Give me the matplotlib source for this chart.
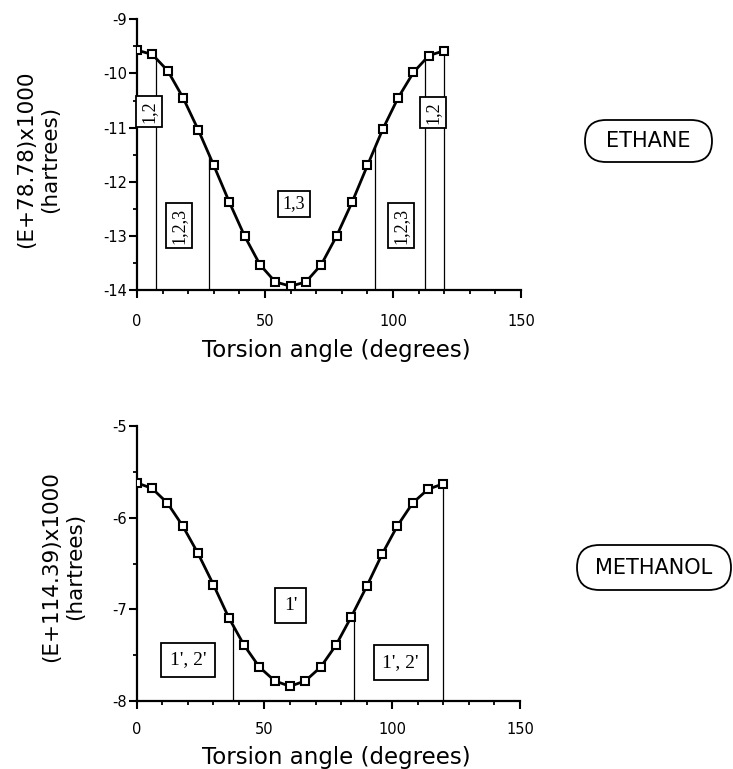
import numpy as np
import matplotlib
matplotlib.use("Agg")
import matplotlib.pyplot as plt
from matplotlib.patches import FancyBboxPatch
from matplotlib.ticker import MultipleLocator

plt.rcParams['font.family'] = 'DejaVu Sans'
plt.rcParams['axes.unicode_minus'] = False

# data
angle = [0, 6, 12, 18, 24, 30, 36, 42, 48, 54, 60, 66, 72, 78, 84, 90, 96, 102, 108, 114, 120]
ethane = [-9.57, -9.65, -9.95, -10.45, -11.05, -11.70, -12.37, -13.00, -13.53, -13.85, -13.93,
          -13.85, -13.53, -13.00, -12.38, -11.70, -11.03, -10.45, -9.98, -9.67, -9.58]
methanol = [-5.62, -5.68, -5.84, -6.09, -6.39, -6.73, -7.09, -7.39, -7.63, -7.78, -7.84,
            -7.78, -7.63, -7.39, -7.08, -6.75, -6.40, -6.09, -5.84, -5.69, -5.63]

ethane_bounds = [7.5, 28, 93, 112.5, 120]
methanol_bounds = [37.5, 85, 120]

ethane_labels = ["1,2", "1,2,3", "1,3", "1,2,3", "1,2"]
ethane_lab_x = [4.5, 16.3, 61.3, 103.1, 115.7]
ethane_lab_y = [-10.70, -12.81, -12.41, -12.81, -10.72]
ethane_lab_rot = [90, 90, 0, 90, 90]

methanol_labels = ["1', 2'", "1'", "1', 2'"]
methanol_lab_x = [20.1, 60.3, 103.3]
methanol_lab_y = [-7.55, -6.96, -7.58]

W, H = 7.33, 7.69
fig = plt.figure(figsize=(W, H), dpi=100)
ax1 = fig.add_axes([137/733, 1-290/769, 384/733, 270.7/769])
ax2 = fig.add_axes([136.7/733, 1-701/769, 383.3/733, 275/769])


def setup(ax, ylo, yhi, ylabel, ylab_x, ylab_y, xlab_y, tickpad):
    ax.set_xlim(0, 150)
    ax.set_ylim(ylo, yhi)
    for s in ['top', 'right']:
        ax.spines[s].set_visible(False)
    for s in ['left', 'bottom']:
        ax.spines[s].set_linewidth(1.6)
    ax.xaxis.set_major_locator(MultipleLocator(50))
    ax.xaxis.set_minor_locator(MultipleLocator(10))
    ax.yaxis.set_major_locator(MultipleLocator(1))
    ax.yaxis.set_minor_locator(MultipleLocator(0.5))
    ax.tick_params(which='major', direction='out', length=6, width=1.5, labelsize=10.5)
    ax.tick_params(which='minor', direction='out', length=3, width=1.3)
    ax.tick_params(axis='x', which='major', pad=tickpad)
    ax.tick_params(axis='y', which='major', pad=1)
    ax.set_xlabel("Torsion angle (degrees)", fontsize=16.5)
    ax.xaxis.label.set_va('center')
    ax.xaxis.set_label_coords(0.52, xlab_y)
    ax.set_ylabel(ylabel, fontsize=15.5, linespacing=1.25)
    ax.yaxis.label.set_va('center')
    ax.yaxis.set_label_coords(ylab_x, ylab_y)


def draw(ax, y, bounds, ylo):
    tops = np.interp(bounds, angle, y)
    ax.vlines(bounds, ylo, tops, color='black', lw=0.9, zorder=1)
    ax.plot(angle, y, color='black', lw=2, marker='s', markersize=5.2,
            markerfacecolor='white', markeredgecolor='black', markeredgewidth=1.5, zorder=3)


setup(ax1, -14, -9, "(E+78.78)x1000\n(hartrees)", -0.258, 0.484, -0.222, 11)
setup(ax2, -8, -5, "(E+114.39)x1000\n(hartrees)", -0.191, 0.488, -0.207, 9)

draw(ax1, ethane, ethane_bounds, -14)
draw(ax2, methanol, methanol_bounds, -8)

for s, x, y, r in zip(ethane_labels, ethane_lab_x, ethane_lab_y, ethane_lab_rot):
    ax1.text(x, y, s, rotation=r, ha='center', va='center', fontsize=13,
             family='Liberation Serif', zorder=4,
             bbox=dict(boxstyle='square,pad=0.25', fc='white', ec='black', lw=1.3))

for s, x, y in zip(methanol_labels, methanol_lab_x, methanol_lab_y):
    ax2.text(x, y, s, ha='center', va='center', fontsize=14,
             family='Liberation Serif', zorder=4,
             bbox=dict(boxstyle='square,pad=0.45', fc='white', ec='black', lw=1.3))

# molecule name boxes
for name, x0, y0, x1, y1 in [("ETHANE", 5.85, 6.07, 7.12, 6.49),
                             ("METHANOL", 5.77, 1.79, 7.31, 2.24)]:
    r = (y1 - y0) / 2
    p = FancyBboxPatch((x0 + r, y0 + r), (x1 - x0) - 2*r, 0, transform=fig.dpi_scale_trans,
                       boxstyle="round,pad=%g,rounding_size=%g" % (r, r),
                       fc='white', ec='black', lw=1.3)
    fig.patches.append(p)
    fig.text((x0 + x1) / 2 / W, (y0 + y1) / 2 / H, name, ha='center', va='center', fontsize=15)

fig.savefig("out.png", dpi=100)
